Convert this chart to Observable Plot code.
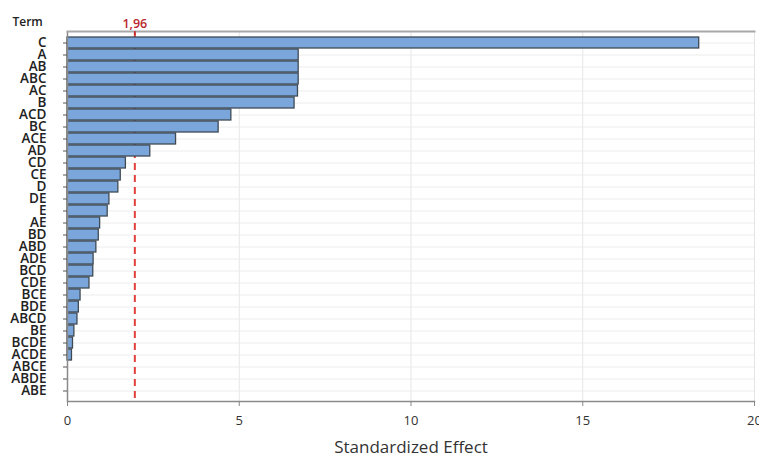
<!DOCTYPE html>
<html>
<head>
<meta charset="utf-8">
<script src="https://cdn.jsdelivr.net/npm/d3@7"></script>
<script src="https://cdn.jsdelivr.net/npm/@observablehq/plot@0.6"></script>
<style>
  html, body { margin: 0; padding: 0; background: #fff; }
</style>
</head>
<body>
<div id="chart"></div>
<script>
const terms = ["C","A","AB","ABC","AC","B","ACD","BC","ACE","AD","CD","CE","D","DE","E","AE","BD","ABD","ADE","BCD","CDE","BCE","BDE","ABCD","BE","BCDE","ACDE","ABCE","ABDE","ABE"];
const effects = [18.39,6.73,6.73,6.73,6.71,6.61,4.77,4.40,3.16,2.41,1.70,1.55,1.48,1.22,1.17,0.95,0.91,0.84,0.76,0.75,0.64,0.38,0.33,0.29,0.20,0.16,0.13,0,0,0];
const xTicks = [0, 5, 10, 15, 20];
const threshold = 1.96;
const thresholdLabel = "1,96";
const xTitle = "Standardized Effect";
const yTitle = "Term";

const data = terms.map((t, i) => ({term: t, effect: effects[i]}));

const chart = Plot.plot({
  width: 759,
  height: 457,
  marginLeft: 67,
  marginRight: 5,
  marginTop: 31,
  marginBottom: 56,
  style: {fontFamily: "'Open Sans', 'Noto Sans', sans-serif", fontSize: "12px", color: "#222", background: "#fff"},
  x: {domain: [0, 20], label: null},
  y: {domain: terms, paddingInner: 0.1, paddingOuter: 0.24, label: null},
  marks: [
    Plot.gridX(xTicks.slice(1), {stroke: "#e6e6e6", strokeOpacity: 1}),
    Plot.gridY(terms, {stroke: "#ececec", strokeOpacity: 1}),
    Plot.ruleX([threshold], {stroke: "#e0403a", strokeWidth: 2, strokeDasharray: "7,5"}),
    Plot.barX(data.filter(d => d.effect > 0), {x: "effect", y: "term", fill: "#7aa6db", stroke: "#3f4a55", strokeWidth: 1.3}),
    Plot.ruleX([0], {stroke: "#8a8a8a", strokeWidth: 1.5}),
    Plot.frame({anchor: "top", stroke: "#a8a8a8", strokeWidth: 2}),
    Plot.frame({anchor: "bottom", stroke: "#8a8a8a", strokeWidth: 1.5}),
    Plot.ruleX([threshold], {stroke: "#c0282d", strokeWidth: 1.5, insetBottom: 366}),
    Plot.axisX({ticks: xTicks, tickSize: 5, tickPadding: 9, stroke: "#888", fill: "#333", fontSize: 13, label: null}),
    Plot.axisY({tickSize: 4, tickPadding: 17, stroke: "#555", fill: "#222", fontSize: 13.5, fontWeight: 600, label: null}),
    Plot.text([thresholdLabel], {x: [threshold], frameAnchor: "top", dy: -12, fill: "#b8262b", fontSize: 12.5, fontWeight: 600}),
    Plot.text([yTitle], {frameAnchor: "top-left", dx: -55, dy: -14, textAnchor: "start", fontSize: 12, fontWeight: 600, fill: "#222"}),
    Plot.text([xTitle], {frameAnchor: "bottom", dy: 51, fontSize: 17, fill: "#333"})
  ]
});
document.getElementById("chart").appendChild(chart);
</script>
</body>
</html>
